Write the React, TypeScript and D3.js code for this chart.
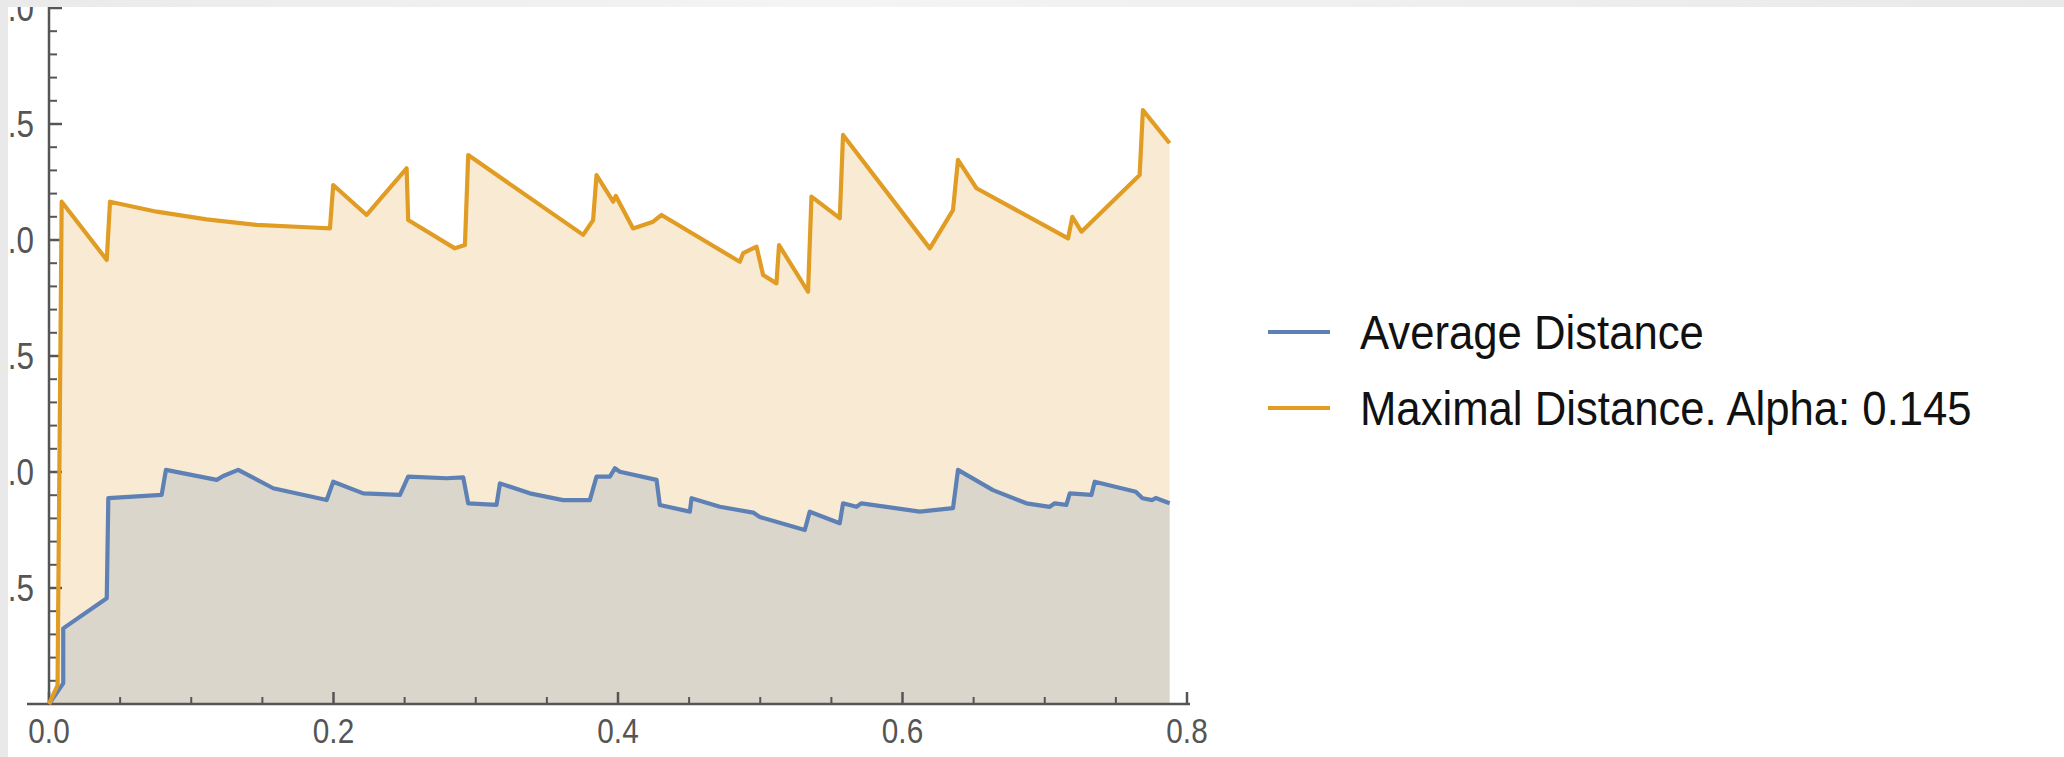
import React from "react";
import * as d3 from "d3";

// Average Distance series: [x, value]
const avgX = [0, 0.01, 0.01, 0.0406, 0.0417, 0.0792, 0.0822, 0.1179, 0.1225, 0.133, 0.1576, 0.1952, 0.1998, 0.2209, 0.2467, 0.2525, 0.2795, 0.2912, 0.2947, 0.3146, 0.317, 0.338, 0.3614, 0.3802, 0.3849, 0.3943, 0.3978, 0.4013, 0.4271, 0.4294, 0.4505, 0.4517, 0.4716, 0.495, 0.4997, 0.5313, 0.5348, 0.5559, 0.5582, 0.5676, 0.5712, 0.6121, 0.6355, 0.639, 0.6636, 0.6871, 0.7035, 0.707, 0.7152, 0.7176, 0.7328, 0.7351, 0.764, 0.7687, 0.7756, 0.778, 0.7878];
const avgY = [0, 0.089, 0.326, 0.456, 0.887, 0.901, 1.009, 0.966, 0.983, 1.009, 0.93, 0.879, 0.958, 0.908, 0.901, 0.98, 0.973, 0.977, 0.865, 0.858, 0.951, 0.908, 0.879, 0.879, 0.98, 0.98, 1.016, 1.001, 0.966, 0.858, 0.829, 0.887, 0.85, 0.825, 0.806, 0.75, 0.829, 0.779, 0.865, 0.85, 0.865, 0.829, 0.844, 1.009, 0.922, 0.865, 0.85, 0.865, 0.858, 0.908, 0.901, 0.958, 0.915, 0.887, 0.879, 0.888, 0.865];

// Maximal Distance series: [x, value]
const maxX = [0, 0.006, 0.0089, 0.0406, 0.0429, 0.0757, 0.1108, 0.146, 0.1811, 0.1975, 0.1998, 0.2233, 0.2514, 0.2525, 0.2853, 0.2924, 0.2947, 0.3755, 0.3825, 0.3849, 0.3966, 0.3985, 0.4106, 0.4247, 0.4306, 0.4856, 0.488, 0.4974, 0.502, 0.5114, 0.5132, 0.5336, 0.536, 0.5559, 0.5582, 0.6192, 0.6355, 0.639, 0.652, 0.7164, 0.7194, 0.7258, 0.7667, 0.769, 0.7878];
const maxY = [0, 0.08, 2.165, 1.914, 2.165, 2.122, 2.089, 2.065, 2.055, 2.05, 2.237, 2.108, 2.309, 2.086, 1.964, 1.978, 2.366, 2.022, 2.086, 2.28, 2.165, 2.19, 2.05, 2.079, 2.108, 1.906, 1.943, 1.971, 1.849, 1.813, 1.978, 1.777, 2.187, 2.094, 2.453, 1.964, 2.129, 2.345, 2.223, 2.007, 2.1, 2.036, 2.28, 2.56, 2.417];

const xMajor = [0, 0.2, 0.4, 0.6, 0.8];
const xMinor = [0.05, 0.1, 0.15, 0.25, 0.3, 0.35, 0.45, 0.5, 0.55, 0.65, 0.7, 0.75];
const yMajor = [0.5, 1.0, 1.5, 2.0, 2.5, 3.0];
const yMinor = [0.1, 0.2, 0.3, 0.4, 0.6, 0.7, 0.8, 0.9, 1.1, 1.2, 1.3, 1.4, 1.6, 1.7, 1.8, 1.9, 2.1, 2.2, 2.3, 2.4, 2.6, 2.7, 2.8, 2.9];

const seriesNames = ["Average Distance", "Maximal Distance. Alpha: 0.145"];

const BLUE = "#5E81B5";
const ORANGE = "#E19C24";
const FONT = "'Liberation Sans', Arial, sans-serif";

export default function App() {
  const W = 2064, H = 757;
  const x = d3.scaleLinear().domain([0, 0.8]).range([49, 1187]);
  const y = d3.scaleLinear().domain([0, 3]).range([704, 8]);

  const avg = avgX.map((v, i) => [v, avgY[i]] as [number, number]);
  const mx = maxX.map((v, i) => [v, maxY[i]] as [number, number]);

  const line = d3.line<[number, number]>().x(d => x(d[0])).y(d => y(d[1]));
  const area = d3.area<[number, number]>().x(d => x(d[0])).y0(y(0)).y1(d => y(d[1]));
  const axisColor = "#555";

  return (
    <svg width={W} height={H} style={{ position: "absolute", left: 0, top: 0, background: "#fff" }}>
      <defs>
        <linearGradient id="topband" x1="0" x2="1" y1="0" y2="0">
          <stop offset="0%" stopColor="#EAEAEA" />
          <stop offset="40%" stopColor="#F4F4F4" />
          <stop offset="100%" stopColor="#E9E9E9" />
        </linearGradient>
      </defs>
      <rect x={0} y={0} width={W} height={H} fill="#fff" />
      {/* fills */}
      <path d={area(mx) || ""} fill={ORANGE} fillOpacity={0.2} />
      <path d={area(avg) || ""} fill={BLUE} fillOpacity={0.2} />
      {/* axes */}
      <line x1={27} x2={1190} y1={y(0)} y2={y(0)} stroke={axisColor} strokeWidth={2.5} />
      <line x1={x(0)} x2={x(0)} y1={0} y2={y(0)} stroke={axisColor} strokeWidth={2.5} />
      {xMajor.map(t => (
        <line key={"xM" + t} x1={x(t)} x2={x(t)} y1={y(0)} y2={y(0) - 12} stroke={axisColor} strokeWidth={2.5} />
      ))}
      {xMinor.map(t => (
        <line key={"xm" + t} x1={x(t)} x2={x(t)} y1={y(0)} y2={y(0) - 7} stroke={axisColor} strokeWidth={2} />
      ))}
      {yMajor.map(t => (
        <line key={"yM" + t} x1={x(0)} x2={x(0) + 13} y1={y(t)} y2={y(t)} stroke={axisColor} strokeWidth={2.5} />
      ))}
      {yMinor.map(t => (
        <line key={"ym" + t} x1={x(0)} x2={x(0) + 8} y1={y(t)} y2={y(t)} stroke={axisColor} strokeWidth={2} />
      ))}
      {/* lines */}
      <path d={line(avg) || ""} fill="none" stroke={BLUE} strokeWidth={4.2} strokeLinejoin="round" />
      <path d={line(mx) || ""} fill="none" stroke={ORANGE} strokeWidth={4.2} strokeLinejoin="round" />
      {/* tick labels */}
      {xMajor.map(t => (
        <text key={"xl" + t} transform={`translate(${x(t)},${y(0) + 27}) scale(0.85,1)`} fontFamily={FONT} fontSize={35} fill="#555" textAnchor="middle" dominantBaseline="central">
          {t.toFixed(1)}
        </text>
      ))}
      {yMajor.map(t => (
        <text key={"yl" + t} transform={`translate(34,${y(t)}) scale(0.85,1)`} fontFamily={FONT} fontSize={37} fill="#555" textAnchor="end" dominantBaseline="central">
          {t.toFixed(1)}
        </text>
      ))}
      {/* legend */}
      {seriesNames.map((n, i) => (
        <g key={n}>
          <line x1={1268} x2={1330} y1={332 + i * 76} y2={332 + i * 76} stroke={i === 0 ? BLUE : ORANGE} strokeWidth={4} />
          <text transform={`translate(1360,${332 + i * 76}) scale(0.91,1)`} fontFamily={FONT} fontSize={48} fill="#111" dominantBaseline="central">
            {n}
          </text>
        </g>
      ))}
      {/* screenshot border bands */}
      <rect x={0} y={0} width={W} height={7} fill="url(#topband)" />
      <rect x={0} y={0} width={8} height={H} fill="#E9E9E9" />
    </svg>
  );
}
